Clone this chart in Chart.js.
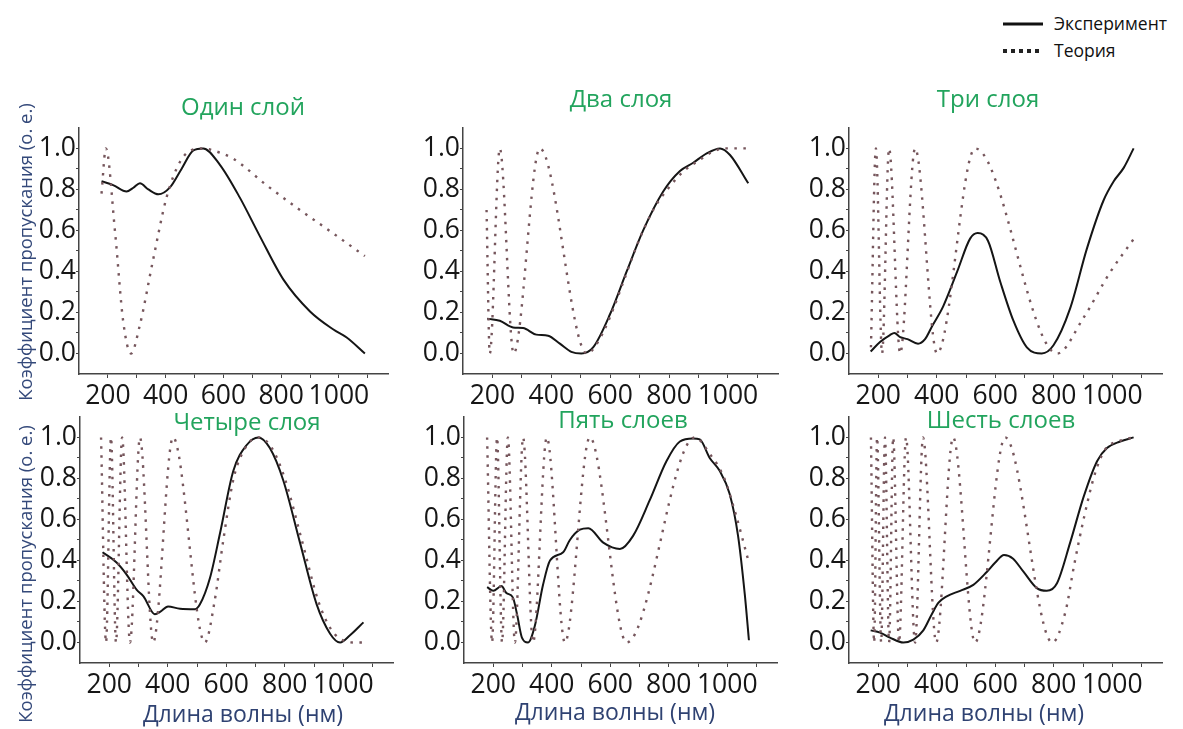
<!DOCTYPE html>
<html lang="ru">
<head>
<meta charset="utf-8">
<title>Коэффициент пропускания</title>
<script src="https://cdn.jsdelivr.net/npm/chart.js@4.4.1/dist/chart.umd.min.js"></script>
<style>
  body { margin:0; background:#fff; }
  #page { position:relative; width:1183px; height:729px; overflow:hidden; font-family:"Open Sans", sans-serif; }
  canvas { position:absolute; }
  .ttl { position:absolute; transform:translate(-50%,-50%); color:#22a45d; font-size:24px; white-space:nowrap; z-index:2; }
  .xt { position:absolute; transform:translate(-50%,-50%); color:#2f4272; font-size:23px; white-space:nowrap; }
  .yt { position:absolute; transform:translate(-50%,-50%) rotate(-90deg); color:#34497a; font-size:18.5px; white-space:nowrap; }
  .lg { position:absolute; font-size:17.5px; color:#111; white-space:nowrap; transform:translateY(-50%); }
</style>
</head>
<body>
<div id="page">
  <canvas id="c1"></canvas><canvas id="c2"></canvas><canvas id="c3"></canvas>
  <canvas id="c4"></canvas><canvas id="c5"></canvas><canvas id="c6"></canvas>

  <div class="ttl" style="left:243px;top:105px">Один слой</div>
  <div class="ttl" style="left:621px;top:97px">Два слоя</div>
  <div class="ttl" style="left:988px;top:97px">Три слоя</div>
  <div class="ttl" style="left:247px;top:420px">Четыре слоя</div>
  <div class="ttl" style="left:623px;top:418px">Пять слоев</div>
  <div class="ttl" style="left:1001px;top:418px">Шесть слоев</div>

  <div class="yt" style="left:24px;top:252px">Коэффициент пропускания (о. е.)</div>
  <div class="yt" style="left:24px;top:574px">Коэффициент пропускания (о. е.)</div>

  <div class="xt" style="left:243px;top:713px">Длина волны (нм)</div>
  <div class="xt" style="left:615px;top:711px">Длина волны (нм)</div>
  <div class="xt" style="left:984px;top:712px">Длина волны (нм)</div>

  <svg style="position:absolute;left:0;top:0" width="1183" height="70">
    <line x1="1003" y1="24" x2="1043" y2="24" stroke="#111" stroke-width="3"/>
    <line x1="1003" y1="51" x2="1043" y2="51" stroke="#222" stroke-width="4" stroke-dasharray="4 4"/>
  </svg>
  <div class="lg" style="left:1054px;top:23px">Эксперимент</div>
  <div class="lg" style="left:1054px;top:50px">Теория</div>
</div>

<script>
// один слой
var exp1Nm = [178, 220, 265, 290, 311, 340, 375, 415, 455, 496, 530, 588, 657, 727, 808, 900, 981, 1027, 1090];
var exp1T  = [0.84, 0.82, 0.79, 0.81, 0.83, 0.80, 0.776, 0.81, 0.90, 0.99, 1.0, 0.92, 0.76, 0.57, 0.36, 0.205, 0.117, 0.078, 0.0];
var th1Nm  = [178, 193, 225, 253, 280, 311, 357, 403, 450, 496, 530, 565, 634, 750, 865, 980, 1090];
var th1T   = [0.78, 1.0, 0.59, 0.157, 0.0, 0.14, 0.46, 0.76, 0.935, 0.995, 1.0, 0.99, 0.95, 0.82, 0.70, 0.586, 0.475];

// два слоя
var exp2Nm = [182, 225, 270, 304, 349, 389, 429, 468, 502, 542, 599, 656, 712, 780, 837, 882, 928, 973, 1007, 1069];
var exp2T  = [0.17, 0.16, 0.127, 0.124, 0.092, 0.087, 0.048, 0.008, 0.0, 0.03, 0.19, 0.40, 0.60, 0.79, 0.89, 0.93, 0.976, 1.0, 0.968, 0.83];
var th2Nm  = [180, 191, 225, 272, 361, 521, 560, 600, 650, 700, 750, 800, 850, 900, 950, 990, 1069];
var th2T   = [0.70, 0.0, 1.0, 0.0, 1.0, 0.0, 0.06, 0.18, 0.37, 0.56, 0.71, 0.81, 0.89, 0.94, 0.985, 1.0, 1.0];

// три слоя
var exp3Nm = [174, 206, 240, 255, 275, 300, 336, 360, 384, 422, 470, 514, 540, 575, 617, 662, 708, 759, 799, 856, 913, 970, 1005, 1039, 1073];
var exp3T  = [0.01, 0.056, 0.09, 0.10, 0.08, 0.07, 0.048, 0.07, 0.133, 0.23, 0.40, 0.56, 0.587, 0.55, 0.35, 0.16, 0.03, 0.0, 0.04, 0.22, 0.51, 0.746, 0.84, 0.905, 1.0];
var th3Nm  = [175, 192, 213, 237, 275, 326, 401, 531, 812, 900, 990, 1072];
var th3T   = [0.03, 1.0, 0.0, 1.0, 0.0, 1.0, 0.0, 1.0, 0.0, 0.17, 0.39, 0.556];

// четыре слоя
var exp4Nm = [177, 225, 260, 294, 317, 356, 375, 401, 442, 493, 510, 544, 579, 624, 670, 710, 749, 795, 852, 909, 955, 989, 1023, 1069];
var exp4T  = [0.44, 0.39, 0.33, 0.257, 0.225, 0.138, 0.15, 0.176, 0.164, 0.162, 0.186, 0.313, 0.535, 0.836, 0.963, 1.0, 0.948, 0.79, 0.487, 0.186, 0.043, 0.0, 0.035, 0.098];
var th4Nm  = [172, 189, 206, 223, 244, 271, 305, 350, 418, 527, 560, 590, 625, 670, 712, 755, 800, 858, 915, 960, 1000, 1035, 1065];
var th4T   = [1.0, 0.0, 1.0, 0.0, 1.0, 0.0, 1.0, 0.0, 1.0, 0.0, 0.2, 0.5, 0.8, 0.96, 1.0, 0.95, 0.8, 0.5, 0.2, 0.06, 0.01, 0.0, 0.0];

// пять слоев
var exp5Nm = [179, 200, 228, 245, 267, 281, 298, 319, 342, 370, 394, 439, 462, 496, 525, 576, 633, 678, 735, 792, 838, 883, 906, 940, 974, 1008, 1037, 1060, 1074];
var exp5T  = [0.27, 0.252, 0.275, 0.241, 0.22, 0.14, 0.024, 0.0, 0.08, 0.28, 0.40, 0.44, 0.50, 0.55, 0.557, 0.487, 0.456, 0.52, 0.694, 0.884, 0.98, 0.995, 0.99, 0.9, 0.837, 0.725, 0.519, 0.233, 0.011];
var th5Nm  = [179, 196, 213, 230, 250, 274, 302, 336, 383, 445, 530, 656, 889, 940, 990, 1030, 1070];
var th5T   = [1.0, 0.0, 1.0, 0.0, 1.0, 0.0, 1.0, 0.0, 1.0, 0.0, 1.0, 0.0, 1.0, 0.92, 0.8, 0.62, 0.41];

// шесть слоев
var exp6Nm = [174, 206, 240, 286, 320, 354, 383, 406, 434, 480, 525, 571, 600, 630, 660, 697, 742, 776, 811, 856, 902, 948, 982, 1027, 1073];
var exp6T  = [0.059, 0.048, 0.024, 0.0, 0.014, 0.059, 0.138, 0.194, 0.225, 0.252, 0.281, 0.344, 0.39, 0.427, 0.41, 0.344, 0.265, 0.252, 0.289, 0.487, 0.71, 0.884, 0.948, 0.98, 1.0];
var th6Nm  = [175, 186, 196, 210, 223, 237, 251, 271, 295, 326, 353, 398, 456, 531, 634, 795, 840, 870, 905, 940, 975, 1030, 1073];
var th6T   = [1.0, 0.0, 1.0, 0.0, 1.0, 0.0, 1.0, 0.0, 1.0, 0.0, 1.0, 0.0, 1.0, 0.0, 1.0, 0.0, 0.15, 0.38, 0.62, 0.82, 0.94, 0.985, 1.0];

var xTicks = [200, 400, 600, 800, 1000];
var yTicks = [0.0, 0.2, 0.4, 0.6, 0.8, 1.0];

// plot area of every panel: left, top, right, bottom (px on the page)
var boxes = [
  [79, 122, 388, 374], [463, 122, 778, 374], [849, 122, 1162, 374],
  [80, 411, 393, 663], [464, 411, 777, 663], [849, 411, 1162, 663]
];

var YW = 60, XH = 40, PADT = 10, PADR = 10;

function pts(xs, ys) {
  return xs.map(function(x, i) { return {x: x, y: ys[i]}; });
}

function panel(id, box, eNm, eT, tNm, tT) {
  var cv = document.getElementById(id);
  var w = box[2] - box[0] + YW + PADR;
  var h = box[3] - box[1] + PADT + XH;
  cv.width = w; cv.height = h;
  cv.style.left = (box[0] - YW) + 'px';
  cv.style.top = (box[1] - PADT) + 'px';
  cv.style.width = w + 'px'; cv.style.height = h + 'px';

  var tickFont = {family: '"Open Sans", sans-serif', size: 26.5};
  new Chart(cv, {
    type: 'line',
    data: {
      datasets: [
        {
          label: 'Теория',
          data: pts(tNm, tT),
          borderColor: '#76565c',
          borderWidth: 2.4,
          borderDash: [2.5, 6.5],
          pointRadius: 0,
          cubicInterpolationMode: 'monotone',
          fill: false
        },
        {
          label: 'Эксперимент',
          data: pts(eNm, eT),
          borderColor: '#151515',
          borderWidth: 2,
          pointRadius: 0,
          cubicInterpolationMode: 'monotone',
          fill: false
        }
      ]
    },
    options: {
      responsive: false,
      animation: false,
      layout: { padding: { top: PADT, right: PADR, left: 0, bottom: 0 } },
      plugins: { legend: { display: false }, tooltip: { enabled: false }, title: { display: false } },
      scales: {
        x: {
          type: 'linear',
          min: 100, max: 1170,
          afterBuildTicks: function(s) {
            var t = [];
            for (var v = 200; v <= 1100; v += 100) t.push({value: v});
            s.ticks = t;
          },
          afterFit: function(s) { s.height = XH; },
          ticks: {
            autoSkip: false, maxRotation: 0, padding: 3, color: '#161616', font: tickFont,
            callback: function(v) { return xTicks.indexOf(v) >= 0 ? String(v) : ''; }
          },
          grid: { drawOnChartArea: false, tickLength: 4, color: '#444' },
          border: { color: '#444', width: 1.5 }
        },
        y: {
          min: -0.1, max: 1.1,
          afterBuildTicks: function(s) {
            var t = [];
            for (var i = 0; i <= 10; i++) t.push({value: i / 10});
            s.ticks = t;
          },
          afterFit: function(s) { s.width = YW; },
          ticks: {
            autoSkip: false, padding: 0, color: '#161616', font: tickFont,
            callback: function(v) {
              var k = Math.round(v * 10);
              return k % 2 === 0 ? (k / 10).toFixed(1) : '';
            }
          },
          grid: { drawOnChartArea: false, tickLength: 3, color: '#444' },
          border: { color: '#444', width: 1.5 }
        }
      }
    }
  });
}

panel('c1', boxes[0], exp1Nm, exp1T, th1Nm, th1T);
panel('c2', boxes[1], exp2Nm, exp2T, th2Nm, th2T);
panel('c3', boxes[2], exp3Nm, exp3T, th3Nm, th3T);
panel('c4', boxes[3], exp4Nm, exp4T, th4Nm, th4T);
panel('c5', boxes[4], exp5Nm, exp5T, th5Nm, th5T);
panel('c6', boxes[5], exp6Nm, exp6T, th6Nm, th6T);
</script>
</body>
</html>
